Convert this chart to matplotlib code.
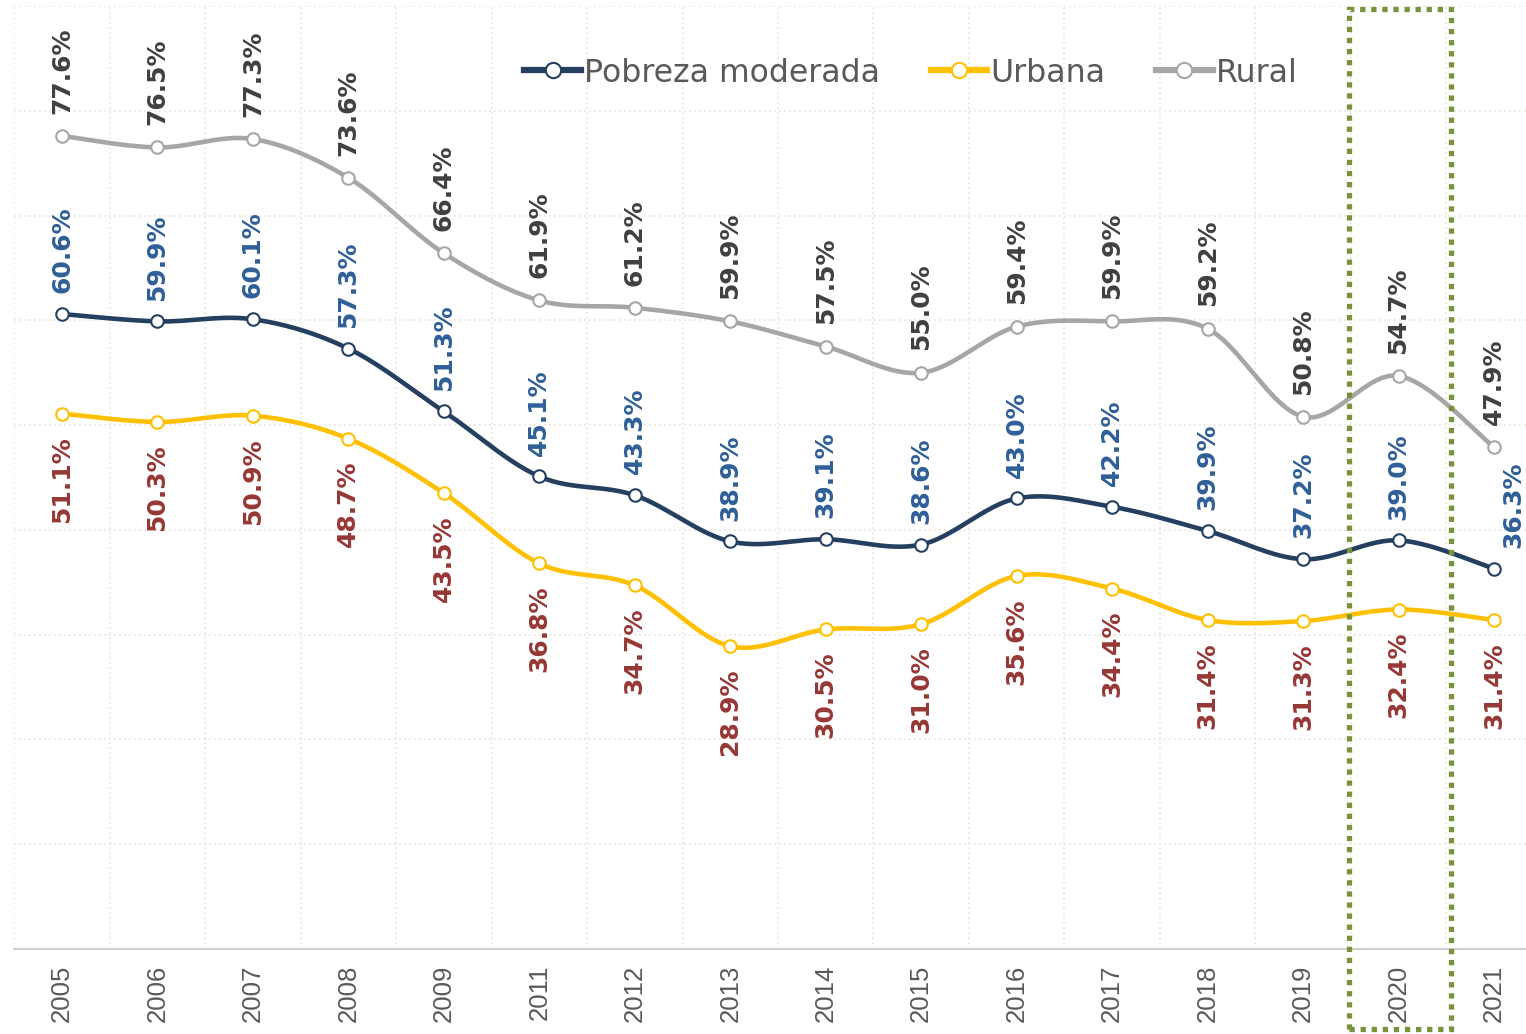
import numpy as np
import matplotlib
matplotlib.use("Agg")
import matplotlib.pyplot as plt
from matplotlib.patches import Rectangle
from matplotlib.lines import Line2D

years = ["2005", "2006", "2007", "2008", "2009", "2011", "2012", "2013", "2014",
         "2015", "2016", "2017", "2018", "2019", "2020", "2021"]
pobreza = [60.6, 59.9, 60.1, 57.3, 51.3, 45.1, 43.3, 38.9, 39.1, 38.6, 43.0, 42.2, 39.9, 37.2, 39.0, 36.3]
urbana = [51.1, 50.3, 50.9, 48.7, 43.5, 36.8, 34.7, 28.9, 30.5, 31.0, 35.6, 34.4, 31.4, 31.3, 32.4, 31.4]
rural = [77.6, 76.5, 77.3, 73.6, 66.4, 61.9, 61.2, 59.9, 57.5, 55.0, 59.4, 59.9, 59.2, 50.8, 54.7, 47.9]
series_names = ["Pobreza moderada", "Urbana", "Rural"]
highlight_year = "2020"

W, H = 1526, 1034
fig = plt.figure(figsize=(W / 100, H / 100), dpi=100)
ax = fig.add_axes([14 / W, 1 - 949 / H, (1526 - 14) / W, (949 - 6) / H])

x = np.arange(len(years))


def smooth(xs, ys, n=30):
    xs = np.asarray(xs, float)
    ys = np.asarray(ys, float)
    px, py = [], []
    for i in range(len(xs) - 1):
        p0 = (xs[max(i - 1, 0)], ys[max(i - 1, 0)])
        p1 = (xs[i], ys[i])
        p2 = (xs[i + 1], ys[i + 1])
        p3 = (xs[min(i + 2, len(xs) - 1)], ys[min(i + 2, len(xs) - 1)])
        c1 = (p1[0] + (p2[0] - p0[0]) / 6, p1[1] + (p2[1] - p0[1]) / 6)
        c2 = (p2[0] - (p3[0] - p1[0]) / 6, p2[1] - (p3[1] - p1[1]) / 6)
        t = np.linspace(0, 1, n)
        bx = (1 - t) ** 3 * p1[0] + 3 * (1 - t) ** 2 * t * c1[0] + 3 * (1 - t) * t ** 2 * c2[0] + t ** 3 * p2[0]
        by = (1 - t) ** 3 * p1[1] + 3 * (1 - t) ** 2 * t * c1[1] + 3 * (1 - t) * t ** 2 * c2[1] + t ** 3 * p2[1]
        px.extend(bx)
        py.extend(by)
    return np.array(px), np.array(py)


line_colors = ["#243f60", "#ffc000", "#a6a6a6"]
label_colors = ["#2f5f98", "#953735", "#404040"]
data = [pobreza, urbana, rural]
label_font = "DejaVu Sans"
lfs = 18

handles = []
for vals, lc, name in zip(data, line_colors, series_names):
    sx, sy = smooth(x, vals)
    ax.plot(sx, sy, color=lc, lw=3.3, solid_capstyle="round", zorder=3)
    ax.plot(x, vals, ls="none", marker="o", ms=9, mfc="white", mec=lc, mew=1.5, zorder=4)
    handles.append(Line2D([], [], color=lc, lw=4.5, marker="o", ms=11, mfc="white", mec=lc, mew=1.5))

# data labels
for i, v in enumerate(rural):
    ax.annotate(f"{v:.1f}%", (x[i], v), xytext=(0, 16), textcoords="offset points",
                rotation=90, ha="center", va="bottom", fontsize=lfs, fontweight="bold",
                color=label_colors[2], family=label_font, zorder=5)
for i, v in enumerate(pobreza):
    dx = 14 if i == len(pobreza) - 1 else 0
    ax.annotate(f"{v:.1f}%", (x[i], v), xytext=(dx, 15), textcoords="offset points",
                rotation=90, ha="center", va="bottom", fontsize=lfs, fontweight="bold",
                color=label_colors[0], family=label_font, zorder=5, annotation_clip=False)
for i, v in enumerate(urbana):
    ax.annotate(f"{v:.1f}%", (x[i], v), xytext=(0, -16), textcoords="offset points",
                rotation=90, ha="center", va="top", fontsize=lfs, fontweight="bold",
                color=label_colors[1], family=label_font, zorder=5)

ax.set_xticks(x)
ax.set_xticklabels(years, rotation=90, fontsize=18.5, color="#595959", family="Liberation Sans")
ax.tick_params(axis="x", length=0, pad=11)
ax.set_yticks(np.arange(0, 91, 10))
ax.set_yticklabels([])
ax.tick_params(axis="y", length=0)

# gridlines
ax.set_xticks(np.arange(-0.5, 15.6, 1.0), minor=True)
ax.tick_params(axis="x", which="minor", length=0)
ax.grid(True, axis="y", which="major", color="#e6e4d6", ls=(0, (1, 2)), lw=1.2, zorder=0)
ax.grid(True, axis="x", which="minor", color="#e6e4d6", ls=(0, (1, 2)), lw=1.2, zorder=0)
ax.grid(False, axis="x", which="major")
ax.set_xlim(-0.503, 15.335)
ax.set_ylim(0, 90)

for s in ["top", "right", "left"]:
    ax.spines[s].set_visible(False)
ax.spines["bottom"].set_color("#d0d0d0")
ax.spines["bottom"].set_linewidth(1.5)

# highlight rectangle around 2020
hi = years.index(highlight_year)
rect = Rectangle((hi - 0.52, -7.6), 1.07, 97.3, fill=False, edgecolor="#77933c",
                 lw=3.8, ls=(0, (1, 1.1)), clip_on=False, zorder=6)
ax.add_patch(rect)

leg = fig.legend(handles, series_names, loc="center", bbox_to_anchor=(911 / W, 1 - 73 / H),
                 ncol=3, frameon=False, handlelength=1.8, handletextpad=0.1,
                 columnspacing=1.6, labelcolor="#595959", prop={"family": "DejaVu Sans", "size": 22.7})

fig.savefig("out.png", dpi=100, facecolor="white")
